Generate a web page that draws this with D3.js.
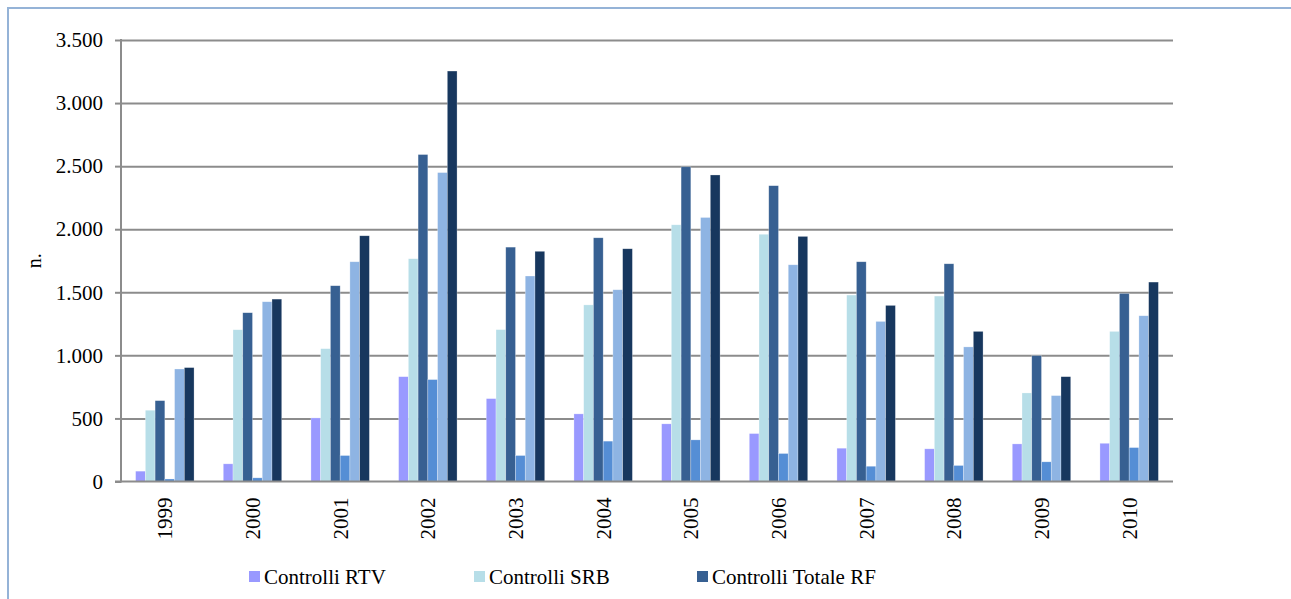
<!DOCTYPE html>
<html>
<head>
<meta charset="utf-8">
<script src="https://cdn.jsdelivr.net/npm/d3@7"></script>
<style>
  body { margin: 0; background: #fff; }
  svg { display: block; }
</style>
</head>
<body>
<div id="chart"></div>
<script>
const years = ["1999", "2000", "2001", "2002", "2003", "2004", "2005", "2006", "2007", "2008", "2009", "2010"];
// only the first three names are visible in the (cut) legend
const seriesNames = ["Controlli RTV", "Controlli SRB", "Controlli Totale RF", "Serie 4", "Serie 5", "Serie 6"];
const seriesColors = ["#9999ff", "#b7dee8", "#376092", "#558ed5", "#8eb4e3", "#17375e"];

const rtv    = [82, 140, 504, 831, 657, 536, 457, 380, 264, 259, 298, 303];
const srb    = [565, 1203, 1053, 1766, 1204, 1400, 2035, 1960, 1478, 1470, 702, 1190];
const totRF  = [641, 1338, 1552, 2592, 1858, 1932, 2495, 2345, 1742, 1726, 998, 1491];
const serie4 = [20, 29, 206, 808, 206, 320, 330, 222, 121, 127, 156, 269];
const serie5 = [892, 1425, 1742, 2449, 1629, 1520, 2093, 1718, 1269, 1067, 681, 1314];
const serie6 = [903, 1446, 1948, 3254, 1825, 1845, 2430, 1943, 1396, 1190, 831, 1581];
const series = [rtv, srb, totRF, serie4, serie5, serie6];

const yTicks = [0, 500, 1000, 1500, 2000, 2500, 3000, 3500];
const legendCount = 3;

const width = 1291, height = 599;
const margin = { top: 40, right: 118, bottom: 117.5, left: 121 };
const FONT = '"Liberation Serif"';

const fmt = d3.formatLocale({ decimal: ",", thousands: ".", grouping: [3], currency: ["", "€"] }).format(",d");

const svg = d3.select("#chart").append("svg")
  .attr("width", width)
  .attr("height", height);

// outer frame
svg.append("rect")
  .attr("x", 8).attr("y", 8)
  .attr("width", width + 10).attr("height", height + 10)
  .attr("fill", "none")
  .attr("stroke", "#95b3d7")
  .attr("stroke-width", 2);

const x0 = d3.scaleBand()
  .domain(years)
  .range([margin.left, width - margin.right]);

const x1 = d3.scaleBand()
  .domain(d3.range(series.length))
  .range([0, x0.bandwidth()])
  .paddingInner(0)
  .paddingOuter(1.5);

const y = d3.scaleLinear()
  .domain([0, 3500])
  .range([height - margin.bottom, margin.top]);

// gridlines + y axis
svg.append("g")
  .attr("class", "y-axis")
  .attr("transform", `translate(${margin.left},0)`)
  .call(d3.axisLeft(y).tickValues(yTicks).tickFormat(fmt).tickSize(6).tickPadding(12))
  .call((g) => g.select(".domain").remove())
  .call((g) => g.selectAll(".tick line").attr("stroke", "#8c8c8c").attr("stroke-width", 2))
  .call((g) => g.selectAll(".tick text")
    .attr("fill", "#000")
    .style("font-family", FONT)
    .style("font-size", "21px"))
  .call((g) => g.selectAll(".tick").filter((d) => d > 0)
    .append("line")
    .attr("x1", 0)
    .attr("x2", width - margin.right - margin.left)
    .attr("stroke", "#8c8c8c")
    .attr("stroke-width", 2));

// bars
svg.append("g")
  .selectAll("g")
  .data(years)
  .join("g")
  .attr("transform", (d) => `translate(${x0(d)},0)`)
  .selectAll("rect")
  .data((d, i) => series.map((s, k) => ({ k, v: s[i] })))
  .join("rect")
  .attr("x", (d) => x1(d.k))
  .attr("width", x1.bandwidth())
  .attr("y", (d) => y(d.v))
  .attr("height", (d) => y(0) - y(d.v))
  .attr("fill", (d) => seriesColors[d.k])
  .attr("stroke", "#ffffff")
  .attr("stroke-opacity", 0.45)
  .attr("stroke-width", 0.6);

// vertical axis line and baseline
svg.append("line")
  .attr("x1", margin.left).attr("x2", margin.left)
  .attr("y1", margin.top - 1).attr("y2", y(0) + 1)
  .attr("stroke", "#8c8c8c").attr("stroke-width", 2);

svg.append("line")
  .attr("x1", margin.left - 6).attr("x2", width - margin.right)
  .attr("y1", y(0)).attr("y2", y(0))
  .attr("stroke", "#8c8c8c").attr("stroke-width", 2);

// category labels (rotated)
svg.append("g")
  .selectAll("text")
  .data(years)
  .join("text")
  .attr("transform", (d) => `translate(${x0(d) + x0.bandwidth() / 2},${y(0) + 16}) rotate(-90)`)
  .attr("text-anchor", "end")
  .attr("dy", "0.35em")
  .style("font-family", FONT)
  .style("font-size", "21px")
  .attr("fill", "#000")
  .text((d) => d);

// y title
svg.append("text")
  .attr("transform", `translate(34,${(margin.top + y(0)) / 2}) rotate(-90)`)
  .attr("text-anchor", "middle")
  .attr("dy", "0.35em")
  .style("font-family", FONT)
  .style("font-size", "20px")
  .text("n.");

// legend
const legendX = [249, 474, 697];
const legend = svg.append("g")
  .selectAll("g")
  .data(seriesNames.slice(0, legendCount))
  .join("g")
  .attr("transform", (d, i) => `translate(${legendX[i]},576.5)`);

legend.append("rect")
  .attr("x", 0).attr("y", -5.5)
  .attr("width", 11).attr("height", 11)
  .attr("fill", (d, i) => seriesColors[i]);

legend.append("text")
  .attr("x", 15)
  .attr("dy", "0.35em")
  .style("font-family", FONT)
  .style("font-size", "21px")
  .text((d) => d);
</script>
</body>
</html>
